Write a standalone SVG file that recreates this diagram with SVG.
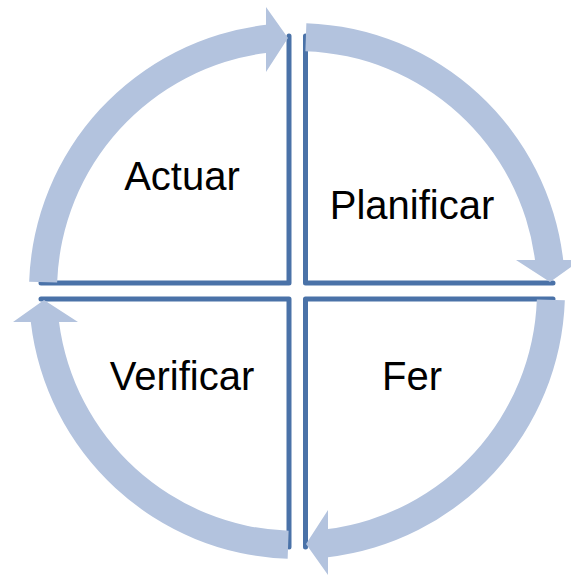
<svg xmlns="http://www.w3.org/2000/svg" width="571" height="575" viewBox="0 0 571 575">
<style>
.q{fill:none;stroke:#4A72A8;stroke-width:5;stroke-linecap:round;stroke-linejoin:round}
.arr{fill:#B3C3DE;stroke:none}
.t{font-family:"Liberation Sans",Arial,sans-serif;font-size:40px;fill:#000;text-anchor:middle}
</style>
<rect width="571" height="575" fill="#fff"/>
<g id="quad-actuar">
<path class="q" d="M41 283 H289 V36"/>
<text class="t" x="182" y="190">Actuar</text>
</g>
<g id="quad-planificar">
<path class="q" d="M305.5 36 V283 H553"/>
<text class="t" x="412" y="219">Planificar</text>
</g>
<g id="quad-verificar">
<path class="q" d="M41 299 H289 V547"/>
<text class="t" x="182" y="390">Verificar</text>
</g>
<g id="quad-fer">
<path class="q" d="M305.5 547 V299 H553"/>
<text class="t" x="412" y="390">Fer</text>
</g>
<g id="connectors">
<path class="arr" d="M29.16 281.65 A268 268 0 0 1 266 24.8 L266 7 L288 38 L266 72 L266 53 A240 240 0 0 0 57.15 282.62 Z"/>
<path class="arr" d="M306.35 23.16 A268 268 0 0 1 563.2 260 L581 260 L550 282 L516 260 L535 260 A240 240 0 0 0 305.38 51.15 Z"/>
<path class="arr" d="M564.84 300.35 A268 268 0 0 1 328 557.2 L328 575 L306 544 L328 510 L328 529 A240 240 0 0 0 536.85 299.38 Z"/>
<path class="arr" d="M287.65 558.84 A268 268 0 0 1 30.8 322 L13 322 L44 300 L78 322 L59 322 A240 240 0 0 0 288.62 530.85 Z"/>
</g>
</svg>
